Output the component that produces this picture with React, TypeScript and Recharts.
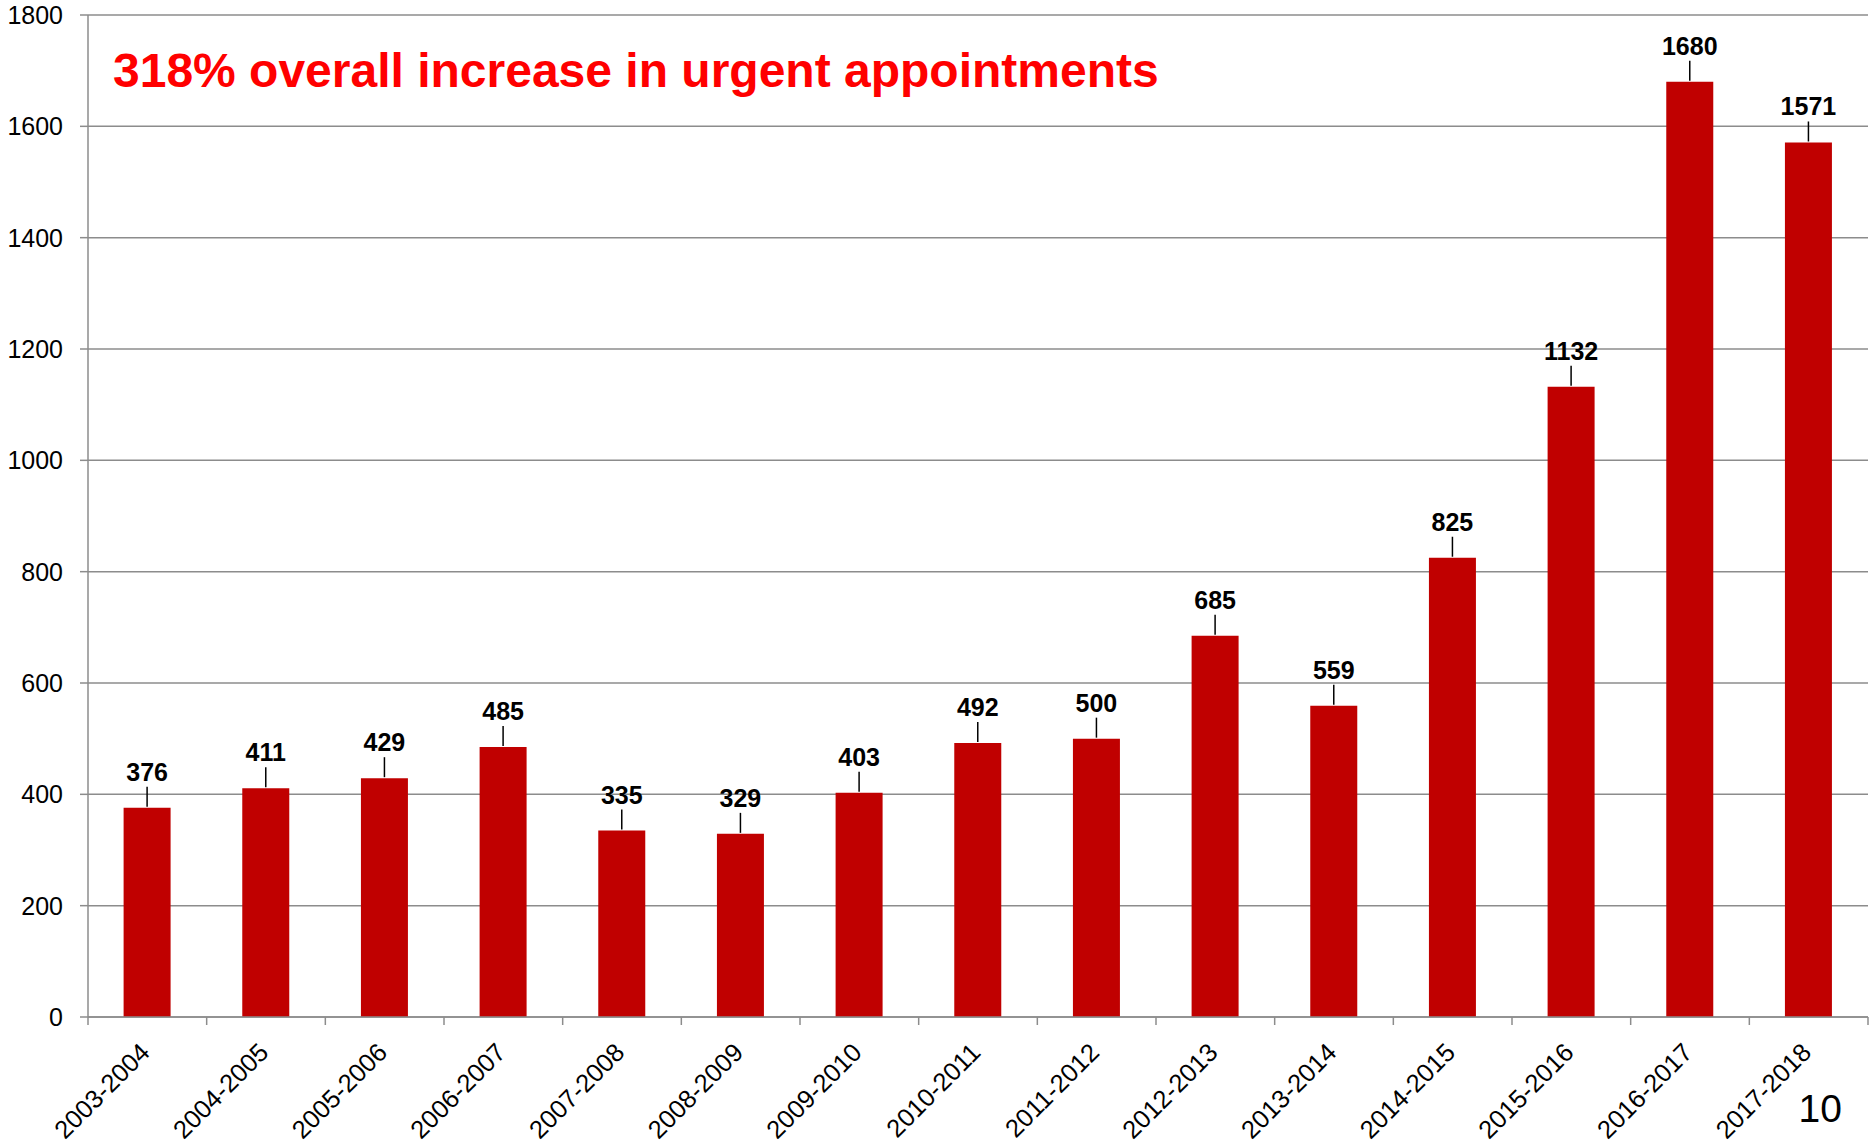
import { BarChart, Bar, XAxis, YAxis, CartesianGrid, LabelList } from "recharts";

const years = [
  "2003-2004",
  "2004-2005",
  "2005-2006",
  "2006-2007",
  "2007-2008",
  "2008-2009",
  "2009-2010",
  "2010-2011",
  "2011-2012",
  "2012-2013",
  "2013-2014",
  "2014-2015",
  "2015-2016",
  "2016-2017",
  "2017-2018",
];

const urgentAppointments = [
  376, 411, 429, 485, 335, 329, 403, 492, 500, 685, 559, 825, 1132, 1680, 1571,
];

const yTicks = [0, 200, 400, 600, 800, 1000, 1200, 1400, 1600, 1800];

const TITLE = "318% overall increase in urgent appointments";
const PAGE_NUMBER = "10";

const W = 1872;
const H = 1145;
const MARGIN = { top: 15, right: 4, left: 0, bottom: 0 };
const Y_AXIS_W = 88;
const X_AXIS_H = 128;
const PLOT_W = W - MARGIN.left - MARGIN.right - Y_AXIS_W;
const BAND = PLOT_W / years.length;

const FONT = '"Liberation Sans", Arial, sans-serif';
const GRID = "#8c8c8c";
const BAR = "#c00000";

const chartData = years.map((year, i) => ({
  year,
  value: urgentAppointments[i],
}));

function YearTick(props: any) {
  const { x, y, payload, index } = props;
  const last = index === years.length - 1;
  const tx = x + 4;
  const ty = y + 37;
  return (
    <g>
      <line x1={x - BAND / 2} y1={y} x2={x - BAND / 2} y2={y + 8} stroke={GRID} strokeWidth={1.5} />
      {last && (
        <line x1={x + BAND / 2} y1={y} x2={x + BAND / 2} y2={y + 8} stroke={GRID} strokeWidth={1.5} />
      )}
      <text
        x={tx}
        y={ty}
        transform={`rotate(-45, ${tx}, ${ty})`}
        textAnchor="end"
        fontSize={25.5}
        fontFamily={FONT}
        fill="#000"
      >
        {payload.value}
      </text>
    </g>
  );
}

function ValueLabel(props: any) {
  const { x, y, width, value } = props;
  const cx = x + width / 2;
  return (
    <g>
      <line x1={cx} y1={y - 1} x2={cx} y2={y - 21} stroke="#000" strokeWidth={1.5} />
      <text
        x={cx}
        y={y - 27}
        textAnchor="middle"
        fontSize={25}
        fontWeight="bold"
        fontFamily={FONT}
        fill="#000"
      >
        {value}
      </text>
    </g>
  );
}

export default function App() {
  return (
    <div style={{ position: "absolute", left: 0, top: 0, width: W, height: H, background: "#fff" }}>
      <BarChart
        width={W}
        height={H}
        data={chartData}
        margin={MARGIN}
        barCategoryGap="30%"
      >
        <CartesianGrid vertical={false} stroke={GRID} strokeWidth={1.5} />
        <XAxis
          dataKey="year"
          height={X_AXIS_H}
          interval={0}
          axisLine={{ stroke: GRID, strokeWidth: 1.5 }}
          tickLine={false}
          tickSize={0}
          tickMargin={0}
          tick={<YearTick />}
        />
        <YAxis
          width={Y_AXIS_W}
          domain={[0, 1800]}
          ticks={yTicks}
          interval={0}
          axisLine={{ stroke: GRID, strokeWidth: 1.5 }}
          tickLine={{ stroke: GRID, strokeWidth: 1.5 }}
          tickSize={8}
          tickMargin={17}
          tick={{ fontSize: 25, fontFamily: FONT, fill: "#000" }}
        />
        <Bar dataKey="value" fill={BAR} isAnimationActive={false}>
          <LabelList dataKey="value" content={<ValueLabel />} />
        </Bar>
      </BarChart>
      <svg
        width={W}
        height={H}
        style={{ position: "absolute", left: 0, top: 0, pointerEvents: "none" }}
      >
        <text x={113} y={87} fontSize={48} fontWeight="bold" fontFamily={FONT} fill="#ff0000">
          {TITLE}
        </text>
        <text x={1842} y={1122} textAnchor="end" fontSize={39} fontFamily={FONT} fill="#000">
          {PAGE_NUMBER}
        </text>
      </svg>
    </div>
  );
}
